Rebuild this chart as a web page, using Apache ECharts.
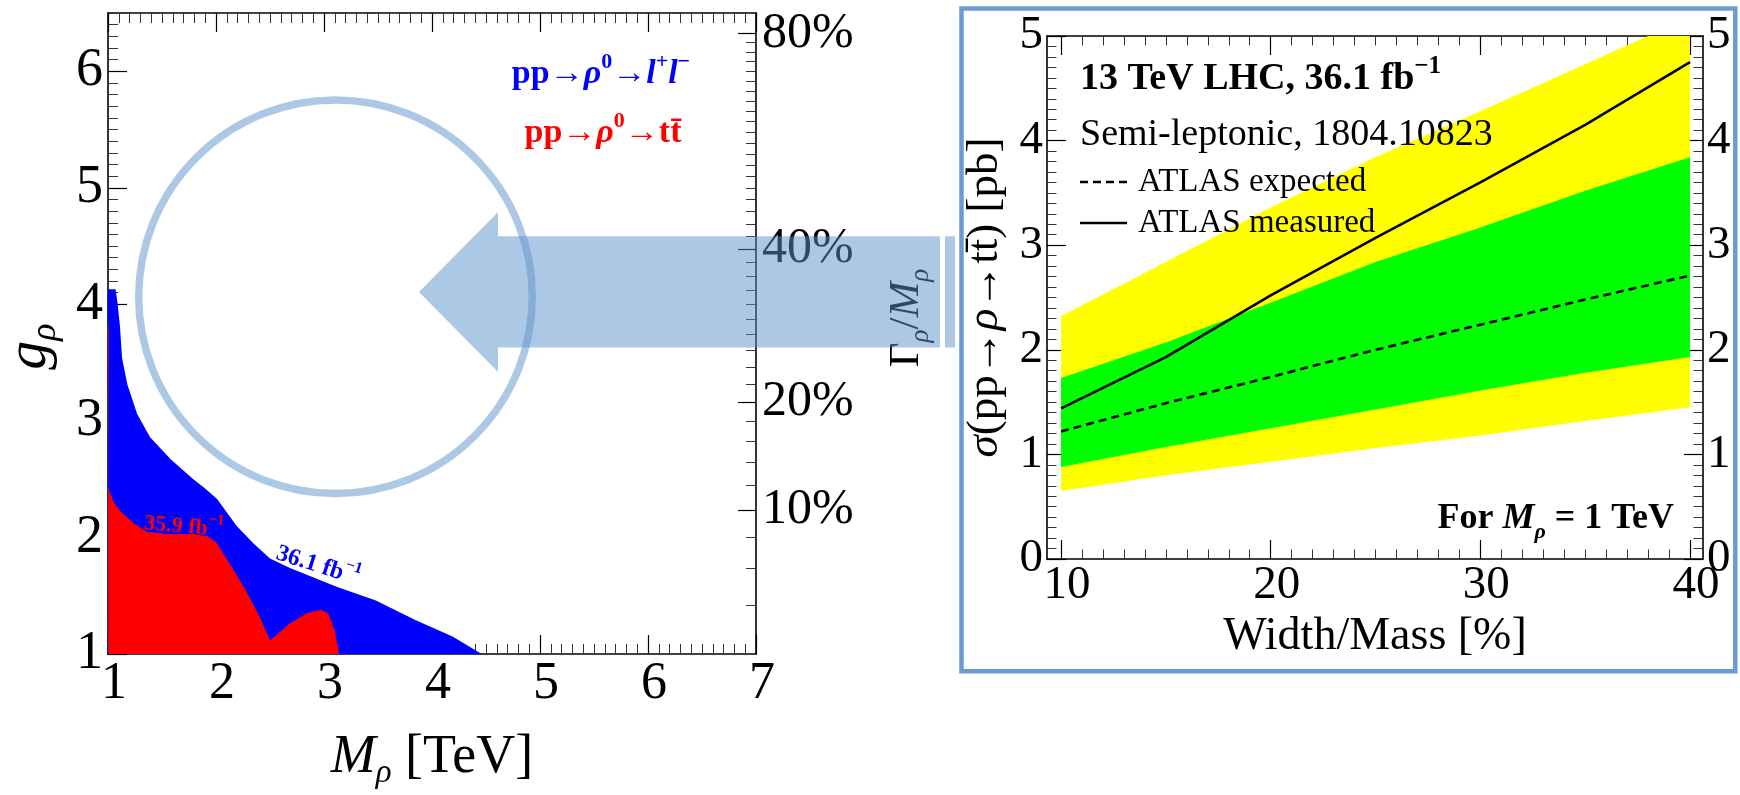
<!DOCTYPE html>
<html>
<head>
<meta charset="utf-8">
<script src="https://cdn.jsdelivr.net/npm/echarts@6/dist/echarts.min.js"></script>
<style>
  html, body { margin: 0; padding: 0; background: #fff; }
  #chart { width: 1740px; height: 795px; }
</style>
</head>
<body>
<div id="chart"></div>
<script>
// ---------- Left panel: excluded regions in the (M_rho, g_rho) plane ----------
// Dilepton search (36.1 fb^-1): upper edge of the excluded region
const dileptonMass = [1.0, 1.07, 1.087, 1.11, 1.13, 1.18, 1.27, 1.39, 1.58, 1.79, 1.885, 2.01, 2.19, 2.345, 2.50, 2.68, 3.11, 3.48, 3.85, 4.19, 4.46];
const dileptonG    = [4.13, 4.13, 4.02, 3.82, 3.54, 3.31, 3.06, 2.86, 2.67, 2.50, 2.43, 2.33, 2.10, 1.95, 1.82, 1.74, 1.58, 1.46, 1.29, 1.15, 1.0];
// ttbar search (35.9 fb^-1): upper edge of the excluded region
const ttbarMass = [1.0, 1.006, 1.003, 1.01, 1.06, 1.12, 1.24, 1.36, 1.55, 1.79, 1.92, 2.0, 2.13, 2.28, 2.42, 2.50, 2.68, 2.84, 2.97, 3.04, 3.10, 3.14];
const ttbarG    = [3.86, 3.78, 2.45, 2.40, 2.29, 2.22, 2.12, 2.05, 2.03, 2.03, 2.01, 1.96, 1.77, 1.54, 1.29, 1.115, 1.26, 1.35, 1.38, 1.35, 1.20, 1.0];

const massTicks = [1, 2, 3, 4, 5, 6, 7];
const gTicks = [1, 2, 3, 4, 5, 6];
const widthPctLabels = [10, 20, 40, 80];
// Gamma_rho / M_rho in percent equals 2 g_rho^2
const WIDTH_PCT_PER_G2 = 2;

// ---------- Right panel: ATLAS semi-leptonic ttbar limit at M_rho = 1 TeV ----------
const widthOverMass = [10, 15, 20, 25, 30, 35, 40];
const band2sLow  = [0.65, 0.80, 0.93, 1.06, 1.18, 1.32, 1.45];
const band1sLow  = [0.88, 1.07, 1.25, 1.43, 1.61, 1.78, 1.93];
const band1sHigh = [1.73, 2.07, 2.45, 2.84, 3.17, 3.52, 3.84];
const band2sHigh = [2.32, 2.84, 3.36, 3.84, 4.28, 4.73, 5.18];
const expectedXs = [1.22, 1.49, 1.74, 2.00, 2.24, 2.48, 2.71];
const measuredXs = [1.44, 1.93, 2.52, 3.07, 3.60, 4.15, 4.75];
const wmTicks = [10, 20, 30, 40];
const xsTicks = [0, 1, 2, 3, 4, 5];

// ---------- helpers ----------
const FONT = 'Liberation Serif';
const zip = (a, b) => a.map((v, i) => [v, b[i]]);
function steps(from, to, step, skip) {
  const out = [];
  const n = Math.round((to - from) / step);
  for (let i = 0; i <= n; i++) {
    const v = +(from + i * step).toFixed(4);
    if (!skip(v)) out.push(v);
  }
  return out;
}
const isInt = v => Math.abs(v - Math.round(v)) < 1e-6;
const gOfPct = p => Math.sqrt(p / WIDTH_PCT_PER_G2);
const pctOfG = g => Math.round(WIDTH_PCT_PER_G2 * g * g);

const massMinor = steps(1, 7, 0.1, isInt);
const gMinor = steps(1, 6.5, 0.1, isInt);
const pctMinor = steps(4, 78, 2, v => widthPctLabels.includes(v)).map(gOfPct);
const wmMinor = steps(10, 40, 1, v => v % 10 === 0);
const xsMinor = steps(0, 5, 0.1, isInt);

const black = { color: '#000', width: 1.6 };
const tickStyle = { color: '#000', width: 1.2 };
const minorStyle = { color: '#333', width: 1 };

// one axis = one set of ticks (frame-style, ticks pointing inward)
function axis(o) {
  const a = {
    type: 'value', gridIndex: o.grid, min: o.min, max: o.max, position: o.pos,
    splitLine: { show: false },
    axisLine: { show: !!o.line, onZero: false, lineStyle: black },
    axisTick: { show: true, inside: true, length: o.len, customValues: o.ticks,
                lineStyle: o.len > 12 ? tickStyle : minorStyle },
    axisLabel: { show: false },
    silent: true
  };
  if (o.labels) {
    a.axisLabel = Object.assign({
      show: true, customValues: o.labels, fontFamily: FONT, color: '#000',
      fontSize: o.fontSize || 44, margin: o.margin || 5
    }, o.labelExtra || {});
  }
  if (o.name) {
    a.name = o.name;
    a.nameLocation = 'middle';
    a.nameGap = o.nameGap;
    a.nameRotate = o.nameRotate;
    a.nameTextStyle = Object.assign({ fontFamily: FONT, color: '#000', fontSize: 46 }, o.nameStyle || {});
  }
  return a;
}

const subRich = (size) => ({
  i: { fontFamily: FONT, fontStyle: 'italic', fontSize: size, color: '#000', lineHeight: size + 10 },
  n: { fontFamily: FONT, fontSize: size, color: '#000', lineHeight: size + 10 },
  s: { fontFamily: FONT, fontStyle: 'italic', fontSize: Math.round(size * 0.62), color: '#000',
       verticalAlign: 'bottom', lineHeight: Math.round(size * 0.62) + 2 }
});

const L = { xmin: 1, xmax: 7, ymin: 1, ymax: 6.5 };
const R = { xmin: 9.33, xmax: 40.62, ymin: 0, ymax: 5 };

const xAxes = [
  axis({ grid: 0, min: L.xmin, max: L.xmax, pos: 'bottom', line: true, len: 19, ticks: massTicks,
         labels: massTicks, fontSize: 52, margin: 4, labelExtra: { padding: [0, 0, 0, 12] },
         name: '{i|M}{s|ρ}{n| [TeV]}', nameGap: 72, nameStyle: { rich: subRich(54) } }),
  axis({ grid: 0, min: L.xmin, max: L.xmax, pos: 'bottom', len: 10, ticks: massMinor }),
  axis({ grid: 0, min: L.xmin, max: L.xmax, pos: 'top', line: true, len: 19, ticks: massTicks }),
  axis({ grid: 0, min: L.xmin, max: L.xmax, pos: 'top', len: 10, ticks: massMinor }),

  axis({ grid: 1, min: R.xmin, max: R.xmax, pos: 'bottom', line: true, len: 19, ticks: wmTicks,
         labels: wmTicks, fontSize: 47, margin: 3, labelExtra: { padding: [0, 0, 0, 12] },
         name: 'Width/Mass [%]', nameGap: 52, nameStyle: { fontSize: 46 } }),
  axis({ grid: 1, min: R.xmin, max: R.xmax, pos: 'bottom', len: 9.5, ticks: wmMinor }),
  axis({ grid: 1, min: R.xmin, max: R.xmax, pos: 'top', line: true, len: 19, ticks: wmTicks }),
  axis({ grid: 1, min: R.xmin, max: R.xmax, pos: 'top', len: 9.5, ticks: wmMinor })
];

const yAxes = [
  axis({ grid: 0, min: L.ymin, max: L.ymax, pos: 'left', line: true, len: 19, ticks: gTicks,
         labels: gTicks, fontSize: 54, margin: 5,
         name: '{i|g}{s|ρ}', nameGap: 44, nameRotate: 90,
         nameStyle: { rich: subRich(58), padding: [0, 26, 0, 0] } }),
  axis({ grid: 0, min: L.ymin, max: L.ymax, pos: 'left', len: 10, ticks: gMinor }),
  axis({ grid: 0, min: L.ymin, max: L.ymax, pos: 'right', line: true, len: 18,
         ticks: widthPctLabels.map(gOfPct), labels: widthPctLabels.map(gOfPct),
         fontSize: 50, margin: 6, labelExtra: { formatter: v => pctOfG(v) + '%' } }),
  axis({ grid: 0, min: L.ymin, max: L.ymax, pos: 'right', len: 10, ticks: pctMinor }),

  axis({ grid: 1, min: R.ymin, max: R.ymax, pos: 'left', line: true, len: 19, ticks: xsTicks,
         labels: xsTicks, fontSize: 47, margin: 4,
         name: '{i|σ}{n|(pp→}{i|ρ}{n|→tt̄) [pb]}', nameGap: 34, nameRotate: 90,
         nameStyle: { fontSize: 45, rich: subRich(45) } }),
  axis({ grid: 1, min: R.ymin, max: R.ymax, pos: 'left', len: 9.5, ticks: xsMinor }),
  axis({ grid: 1, min: R.ymin, max: R.ymax, pos: 'right', line: true, len: 19, ticks: xsTicks,
         labels: xsTicks, fontSize: 47, margin: 4 }),
  axis({ grid: 1, min: R.ymin, max: R.ymax, pos: 'right', len: 9.5, ticks: xsMinor })
];

const area = (name, xs, ys, color) => ({
  name, type: 'line', xAxisIndex: 0, yAxisIndex: 0, data: zip(xs, ys),
  symbol: 'none', lineStyle: { width: 0 }, itemStyle: { color },
  areaStyle: { color, opacity: 1, origin: 'start' }, silent: true
});

// filled band between two limit curves, drawn through the axis scales
const band = (name, lo, hi, color) => ({
  name, type: 'custom', xAxisIndex: 4, yAxisIndex: 4, silent: true, clip: true,
  data: [[widthOverMass[0], lo[0]]],
  renderItem: (params, api) => {
    const upper = widthOverMass.map((x, i) => api.coord([x, hi[i]]));
    const lower = widthOverMass.map((x, i) => api.coord([x, lo[i]])).reverse();
    const cs = params.coordSys;
    return {
      type: 'polygon',
      shape: { points: upper.concat(lower) },
      style: { fill: color },
      clipPath: { type: 'rect', shape: { x: cs.x, y: cs.y, width: cs.width, height: cs.height } }
    };
  }
});

const series = [
  area('pp→ρ0→l+l-', dileptonMass, dileptonG, '#0000ff'),
  area('pp→ρ0→tt', ttbarMass, ttbarG, '#ff0000'),
  band('±2σ', band2sLow, band2sHigh, '#ffff00'),
  band('±1σ', band1sLow, band1sHigh, '#00ff00'),
  { name: 'ATLAS expected', type: 'line', xAxisIndex: 4, yAxisIndex: 4, data: zip(widthOverMass, expectedXs),
    symbol: 'none', lineStyle: { color: '#000', width: 2.6, type: [8, 5] }, z: 5, silent: true },
  { name: 'ATLAS measured', type: 'line', xAxisIndex: 4, yAxisIndex: 4, data: zip(widthOverMass, measuredXs),
    symbol: 'none', lineStyle: { color: '#000', width: 2.6 }, z: 5, silent: true }
];

// ---------- annotations ----------
const haze = 'rgba(91,145,201,0.5)';
const supRich = (size, fill, weight) => ({
  b: { fontFamily: FONT, fontWeight: weight, fontSize: size, fill, lineHeight: size + 12 },
  bi: { fontFamily: FONT, fontWeight: weight, fontStyle: 'italic', fontSize: size, fill, lineHeight: size + 12 },
  up: { fontFamily: FONT, fontWeight: weight, fontSize: Math.round(size * 0.66), fill,
        verticalAlign: 'top', lineHeight: Math.round(size * 0.66) + 4 },
  sub: { fontFamily: FONT, fontWeight: weight, fontStyle: 'italic', fontSize: Math.round(size * 0.62), fill,
         verticalAlign: 'bottom', lineHeight: Math.round(size * 0.62) + 2 }
});
function label(x, y, text, rich, align, rotation, z) {
  return { type: 'text', x, y, rotation: rotation || 0, z: z || 50, silent: true,
           style: { text, rich, align: align || 'left', verticalAlign: 'middle' } };
}

const graphic = [
  // luminosity labels on the contours
  label(184, 527, '{b|35.9 fb}{up|−1}', supRich(22, '#ff0000', 'bold'), 'center', -0.09),
  label(318, 566, '{b|36.1 fb}{up|−1}', supRich(24, '#0000ff', 'bold'), 'center', -0.31),
  // process key
  label(601, 74, '{b|pp→}{bi|ρ}{up|0}{b|→}{bi|l}{up|+}{bi|l}{up|−}', supRich(34, '#0000ff', 'bold'), 'center'),
  label(603, 133, '{b|pp→}{bi|ρ}{up|0}{b|→tt̄}', supRich(34, '#ff0000', 'bold'), 'center'),
  // second vertical scale title
  label(907, 318, '{b|Γ}{sub|ρ}{b|/}{bi|M}{sub|ρ}', supRich(43, '#000', 'normal'), 'center', Math.PI / 2),

  // right panel texts
  label(1080, 79, '{b|13 TeV LHC, 36.1 fb}{up|−1}', supRich(38, '#000', 'bold'), 'left'),
  label(1080, 135, '{b|Semi-leptonic, 1804.10823}', supRich(38, '#000', 'normal'), 'left'),
  label(1138, 182, '{b|ATLAS expected}', supRich(33, '#000', 'normal'), 'left'),
  label(1138, 223, '{b|ATLAS measured}', supRich(33, '#000', 'normal'), 'left'),
  label(1674, 519, '{b|For }{bi|M}{sub|ρ}{b| = 1 TeV}', supRich(36, '#000', 'bold'), 'right'),
  { type: 'line', z: 50, silent: true, shape: { x1: 1080, y1: 182, x2: 1127, y2: 182 },
    style: { stroke: '#000', lineWidth: 2.6, lineDash: [8, 5] } },
  { type: 'line', z: 50, silent: true, shape: { x1: 1080, y1: 223, x2: 1127, y2: 223 },
    style: { stroke: '#000', lineWidth: 2.6 } },

  // frame round the right panel
  { type: 'rect', z: 60, silent: true, shape: { x: 961.5, y: 8.4, width: 773.8, height: 662.8 },
    style: { fill: null, stroke: '#6a9bd1', lineWidth: 4.5 } },

  // highlight ring and pointer
  { type: 'circle', z: 100, silent: true, shape: { cx: 335.5, cy: 296.7, r: 196.8 },
    style: { fill: null, stroke: haze, lineWidth: 7.5 } },
  { type: 'polygon', z: 100, silent: true,
    shape: { points: [[419, 292], [498, 212], [498, 236.3], [940, 236.3], [940, 347.4], [498, 347.4], [498, 372]] },
    style: { fill: haze } },
  { type: 'rect', z: 100, silent: true, shape: { x: 945, y: 236.3, width: 10, height: 111.1 },
    style: { fill: haze } }
];

const chart = echarts.init(document.getElementById('chart'), null, { renderer: 'canvas' });
chart.setOption({
  backgroundColor: '#fff',
  animation: false,
  textStyle: { fontFamily: FONT },
  grid: [
    { left: 104, top: 13, width: 652, height: 651, containLabel: false },
    { left: 1047, top: 36, width: 656, height: 523, containLabel: false }
  ],
  xAxis: xAxes,
  yAxis: yAxes,
  series,
  graphic
});
</script>
</body>
</html>
